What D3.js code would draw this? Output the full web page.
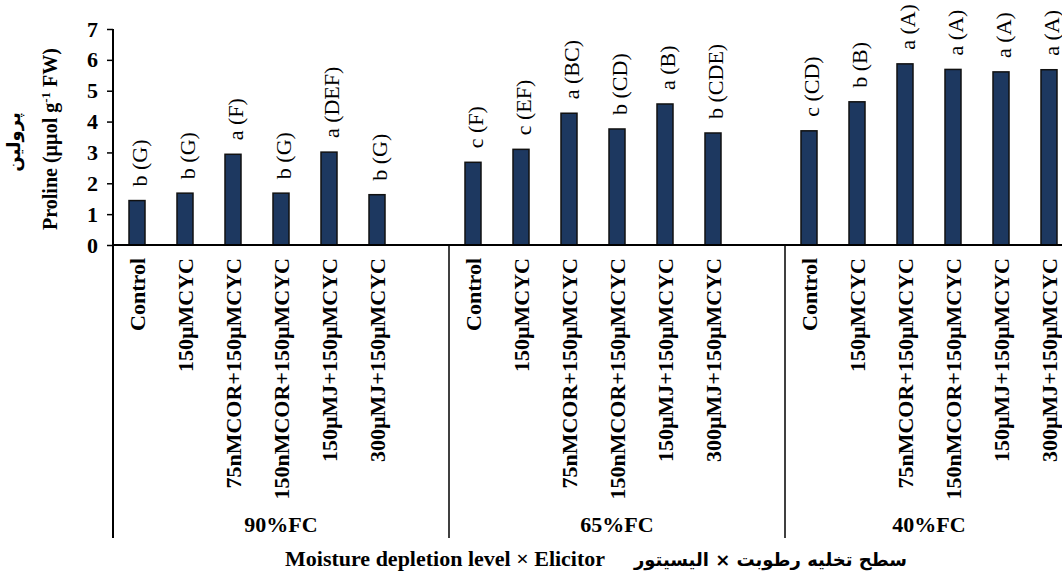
<!DOCTYPE html>
<html>
<head>
<meta charset="utf-8">
<script src="https://cdn.jsdelivr.net/npm/d3@7"></script>
<style>
  body { margin: 0; background: #fff; }
  svg { display: block; }
</style>
</head>
<body>
<svg id="chart" width="1062" height="573"></svg>
<script>
'use strict';

// data
var groups = ['90%FC', '65%FC', '40%FC'];
var treatments = ['Control', '150µMCYC', '75nMCOR+150µMCYC', '150nMCOR+150µMCYC', '150µMJ+150µMCYC', '300µMJ+150µMCYC'];
var proline90 = [1.44, 1.68, 2.94, 1.68, 3.01, 1.63];
var proline65 = [2.68, 3.10, 4.27, 3.76, 4.57, 3.63];
var proline40 = [3.70, 4.64, 5.87, 5.69, 5.61, 5.68];
var letters90 = ['b (G)', 'b (G)', 'a (F)', 'b (G)', 'a (DEF)', 'b (G)'];
var letters65 = ['c (F)', 'c (EF)', 'a (BC)', 'b (CD)', 'a (B)', 'b (CDE)'];
var letters40 = ['c (CD)', 'b (B)', 'a (A)', 'a (A)', 'a (A)', 'a (A)'];
var yTicks = [0, 1, 2, 3, 4, 5, 6, 7];

(function(){
	var values = [proline90, proline65, proline40];
	var letters = [letters90, letters65, letters40];

	// one slot per bar, plus an empty slot after the first two groups
	var slots = [];
	var bars = [];
	groups.forEach(function(g, gi){
		treatments.forEach(function(t, ti){
			var id = g + '|' + t;
			slots.push(id);
			bars.push({slot: id, group: g, treatment: t, value: values[gi][ti], label: letters[gi][ti]});
		});
		if(gi < groups.length - 1) slots.push(g + '|gap');
	});

	var serif = '"Liberation Serif", "Times New Roman", serif';
	var arabic = '"DejaVu Sans", sans-serif';

	var left = 113, top = 29, base = 245, lineBottom = 538;
	var svg = d3.select('#chart');

	var x = d3.scaleBand()
		.domain(slots)
		.range([left, left + slots.length * 48])
		.padding(0);
	var y = d3.scaleLinear().domain([0, 7]).range([base, top]);
	var bw = x.bandwidth() / 3;

	// y axis
	var yAxis = d3.axisLeft(y).tickValues(yTicks).tickSize(6).tickPadding(9).tickFormat(d3.format('d'));
	var gy = svg.append('g').attr('transform', 'translate(' + left + ',0)').call(yAxis);
	gy.select('.domain').remove();
	gy.selectAll('.tick line').attr('stroke', '#000').attr('stroke-width', 1.5);
	gy.selectAll('.tick text')
		.attr('fill', '#000')
		.style('font-family', serif)
		.style('font-size', '22px')
		.style('font-weight', 'bold');

	svg.append('line')
		.attr('x1', left).attr('x2', left)
		.attr('y1', top).attr('y2', lineBottom)
		.attr('stroke', '#000').attr('stroke-width', 2);

	// bars
	svg.append('g').selectAll('rect')
		.data(bars)
		.enter().append('rect')
		.attr('x', function(d){ return x(d.slot) + (x.bandwidth() - bw) / 2; })
		.attr('y', function(d){ return y(d.value); })
		.attr('width', bw)
		.attr('height', function(d){ return y(0) - y(d.value); })
		.attr('fill', '#1d3860')
		.attr('stroke', '#111')
		.attr('stroke-width', 1.5);

	// x axis line over bar bottoms
	svg.append('line')
		.attr('x1', left).attr('x2', x.range()[1])
		.attr('y1', base).attr('y2', base)
		.attr('stroke', '#000').attr('stroke-width', 2);

	// significance letters
	svg.append('g').selectAll('text')
		.data(bars)
		.enter().append('text')
		.attr('transform', function(d){
			var cx = x(d.slot) + x.bandwidth() / 2;
			return 'translate(' + (cx + 2) + ',' + (y(d.value) - 14) + ') rotate(-90)';
		})
		.attr('dy', '0.35em')
		.attr('text-anchor', 'start')
		.style('font-family', serif)
		.style('font-size', '22px')
		.text(function(d){ return d.label; });

	// treatment labels
	svg.append('g').selectAll('text')
		.data(bars)
		.enter().append('text')
		.attr('transform', function(d){
			var cx = x(d.slot) + x.bandwidth() / 2;
			return 'translate(' + cx + ',258) rotate(-90)';
		})
		.attr('dy', '0.35em')
		.attr('text-anchor', 'end')
		.style('font-family', serif)
		.style('font-size', '22px')
		.style('font-weight', 'bold')
		.text(function(d){ return d.treatment; });

	// group separators and labels
	groups.forEach(function(g, gi){
		var first = x(g + '|' + treatments[0]);
		var last = x(g + '|' + treatments[treatments.length - 1]) + x.bandwidth();
		var end = gi < groups.length - 1 ? x(g + '|gap') + x.bandwidth() : last;
		if(gi > 0){
			svg.append('line')
				.attr('x1', first).attr('x2', first)
				.attr('y1', base).attr('y2', lineBottom)
				.attr('stroke', '#000').attr('stroke-width', 1.5);
		}
		svg.append('text')
			.attr('x', (first + end) / 2)
			.attr('y', 532)
			.attr('text-anchor', 'middle')
			.style('font-family', serif)
			.style('font-size', '22px')
			.style('font-weight', 'bold')
			.text(g);
	});

	// axis titles
	var yt = svg.append('g').attr('transform', 'translate(0,' + ((top + base) / 2) + ') rotate(-90)');
	yt.append('text')
		.attr('x', -2).attr('y', 57)
		.attr('text-anchor', 'middle')
		.style('font-family', serif)
		.style('font-size', '20px')
		.style('font-weight', 'bold')
		.html('Proline (µµol g<tspan dy="-7" font-size="13">-1</tspan><tspan dy="7"> FW)</tspan>');
	yt.append('text')
		.attr('x', -5).attr('y', 20)
		.attr('text-anchor', 'middle')
		.style('font-family', arabic)
		.style('font-size', '18px')
		.style('font-weight', 'bold')
		.text('پرولین');

	svg.append('text')
		.attr('x', 285).attr('y', 566)
		.style('font-family', serif)
		.style('font-size', '22px')
		.style('font-weight', 'bold')
		.text('Moisture depletion level × Elicitor');
	svg.append('text')
		.attr('x', 907).attr('y', 566)
		.attr('text-anchor', 'end')
		.style('font-family', arabic)
		.style('font-size', '18px')
		.style('font-weight', 'bold')
		.text('سطح تخلیه رطوبت × الیسیتور');
})();
</script>
</body>
</html>
